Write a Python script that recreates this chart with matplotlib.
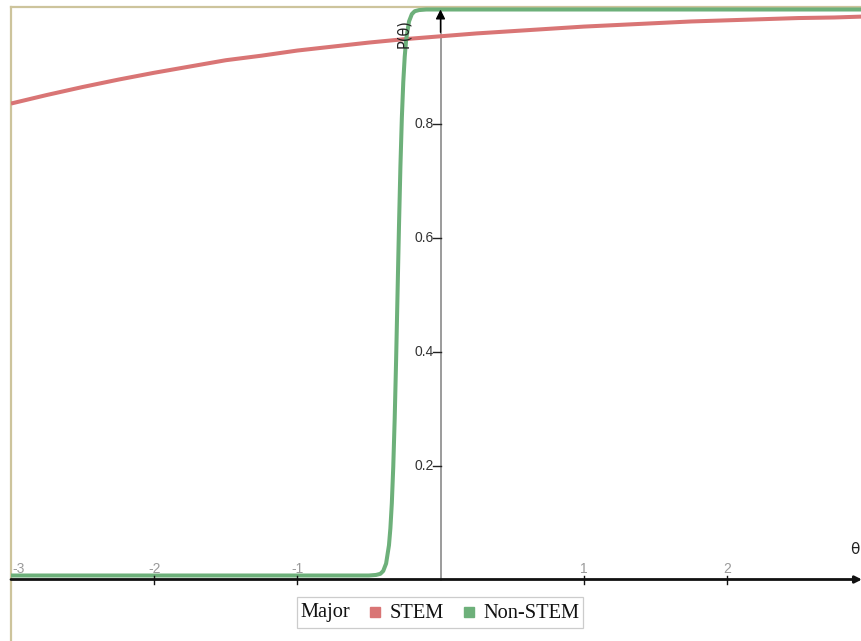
import matplotlib
matplotlib.use('Agg')
import matplotlib.pyplot as plt
from matplotlib.patches import Rectangle

# ─── DATA ────────────────────────────────────────────────────────────────────
theta_stem = [-3.0, -2.75, -2.5, -2.25, -2.0, -1.75, -1.5, -1.25, -1.0, -0.75, -0.5, -0.25,
              0.0, 0.25, 0.5, 0.75, 1.0, 1.25, 1.5, 1.75, 2.0, 2.25, 2.5, 2.75, 3.0]
p_stem = [0.835, 0.850, 0.864, 0.877, 0.889, 0.900, 0.911, 0.919, 0.928, 0.935, 0.942, 0.948,
          0.953, 0.958, 0.962, 0.966, 0.970, 0.973, 0.976, 0.979, 0.981, 0.983, 0.985, 0.986,
          0.988]

theta_non = [-3.0, -1.0, -0.5, -0.45, -0.42, -0.40, -0.38, -0.36, -0.35, -0.34, -0.33, -0.32,
             -0.31, -0.30, -0.29, -0.28, -0.27, -0.26, -0.25, -0.24, -0.22, -0.20, -0.18,
             -0.15, -0.10, 0.0, 3.0]
p_non = [0.007, 0.007, 0.007, 0.008, 0.010, 0.015, 0.028, 0.060, 0.090, 0.134, 0.198, 0.282,
         0.386, 0.503, 0.620, 0.725, 0.810, 0.873, 0.917, 0.947, 0.979, 0.992, 0.997,
         0.999, 1.0, 1.0, 1.0]

x_ticks = [-3, -2, -1, 1, 2, 3]
x_labels = ['-3', '-2', '-1', '1', '2', '3']
y_ticks = [0.2, 0.4, 0.6, 0.8]
y_labels = ['0.2', '0.4', '0.6', '0.8']

legend_title = 'Major'
legend_names = ['STEM', 'Non-STEM']
RED = '#d97575'
GREEN = '#6db07a'

# ─── FIGURE ──────────────────────────────────────────────────────────────────
W, H = 862, 641
fig = plt.figure(figsize=(W / 100, H / 100), dpi=100)
ax = fig.add_axes([11 / W, 0, (W - 11) / W, (H - 7) / H])

XMIN, XMAX = -3.0, (W - 441) / 143
YMIN, YMAX = (579.5 - 641) / 570, (579.5 - 7) / 570
ax.set_xlim(XMIN, XMAX)
ax.set_ylim(YMIN, YMAX)
ax.set_xticks([]); ax.set_yticks([])
for s in ['right', 'bottom']:
    ax.spines[s].set_visible(False)
for s in ['left', 'top']:
    ax.spines[s].set_color('#cdc49c')
    ax.spines[s].set_linewidth(1.6)

# curves
ax.plot(theta_stem, p_stem, color=RED, lw=2.9, solid_capstyle='butt', zorder=3)
ax.plot(theta_non, p_non, color=GREEN, lw=2.9, solid_capstyle='butt', zorder=4)

# x axis with arrow
ax.annotate('', xy=(XMAX, 0), xytext=(XMIN, 0),
            arrowprops=dict(arrowstyle='-|>', color='#111111', lw=2.0,
                            mutation_scale=10, shrinkA=0, shrinkB=0), zorder=5)
# y axis (gray) with black arrowhead
ax.plot([0, 0], [0, 0.99], color='#8a8a8a', lw=1.2, zorder=2)
ax.annotate('', xy=(0, 1.0), xytext=(0, 0.96),
            arrowprops=dict(arrowstyle='-|>', color='black', lw=1.0,
                            mutation_scale=14, shrinkA=0, shrinkB=0), zorder=5)

# ticks and labels
for t, lab in zip(x_ticks, x_labels):
    if abs(t) < 3:
        ax.plot([t, t], [-0.008, 0.006], color='#111111', lw=1.0, zorder=5)
    ha = 'left' if t == -3 else 'center'
    xt = t + 0.01 if t == -3 else t
    ax.text(xt, 0.019, lab, ha=ha, va='center', fontsize=10, color='#9a9a9a',
            family='Liberation Sans', clip_on=False)
for t, lab in zip(y_ticks, y_labels):
    ax.plot([-0.05, 0], [t, t], color='#222222', lw=1.0, zorder=5)
    ax.text(-0.045, t, lab, ha='right', va='center', fontsize=10, color='#333333',
            family='Liberation Sans')

ax.text((855 - 441) / 143, 0.052, 'θ', ha='center', va='center', fontsize=11, color='#222222')
ax.text(-0.259, 0.957, 'P(θ)', ha='center', va='center', rotation=90, fontsize=10.5,
        color='#222222', zorder=10)

# ─── LEGEND (inline title, drawn in figure pixels) ───────────────────────────
def fx(px): return px / W
def fy(py): return 1 - py / H

fig.patches.append(Rectangle((fx(297), fy(628)), fx(583) - fx(297), fy(597) - fy(628),
                             transform=fig.transFigure, fill=False, edgecolor='#cccccc',
                             lw=0.9))
lkw = dict(fontsize=14.7, family='Liberation Serif', color='#111111', va='center')
fig.text(fx(300), fy(613), legend_title, **lkw)
for sq_x, txt_x, name, col in zip([370, 464], [390, 483], legend_names, [RED, GREEN]):
    fig.patches.append(Rectangle((fx(sq_x), fy(617)), fx(10), 10 / H,
                                 transform=fig.transFigure, color=col))
    fig.text(fx(txt_x), fy(613), name, **lkw)

fig.savefig('out.png', dpi=100)
